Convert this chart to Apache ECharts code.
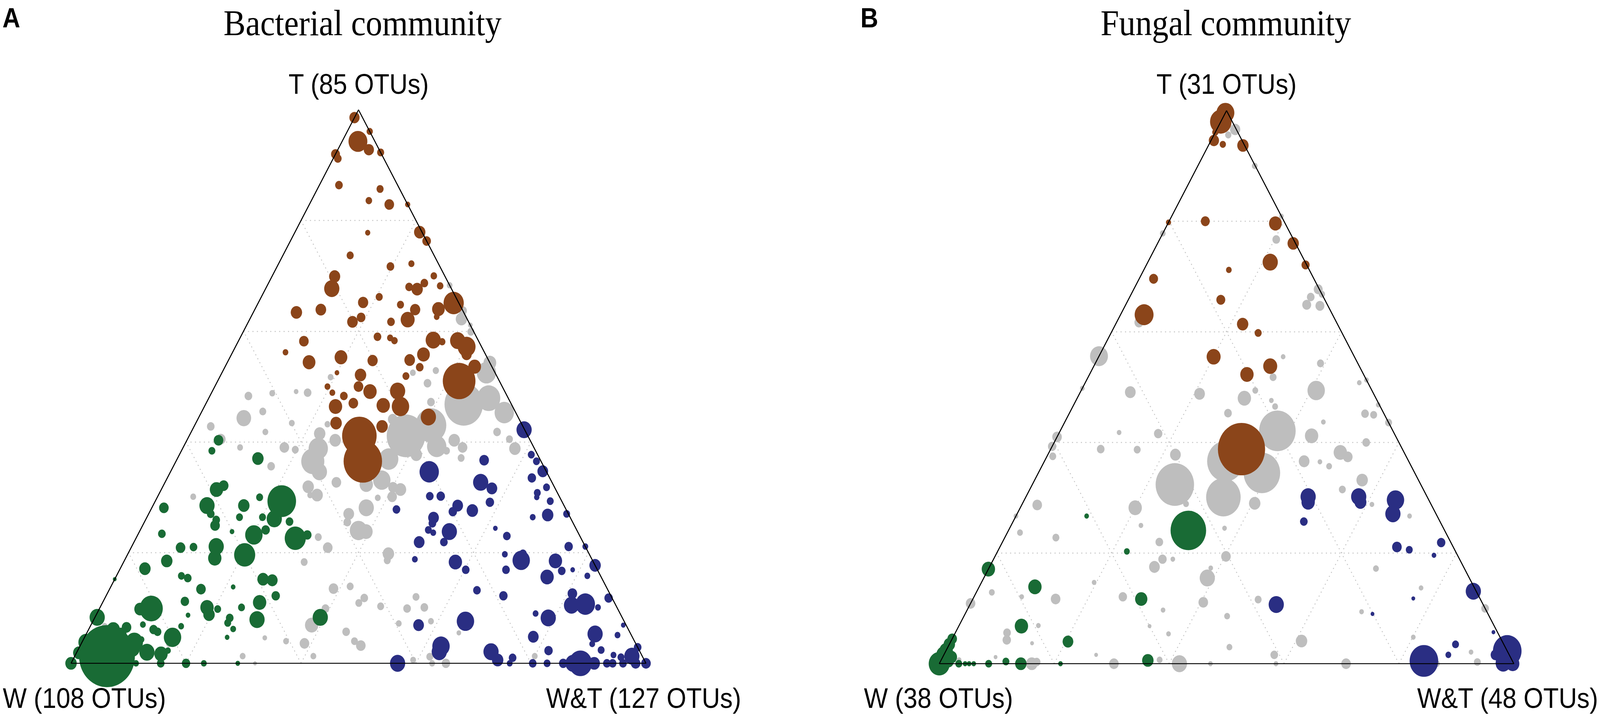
<!DOCTYPE html>
<html><head><meta charset="utf-8">
<script src="https://cdn.jsdelivr.net/npm/echarts@6/dist/echarts.min.js"></script>
<style>html,body{margin:0;padding:0;background:#fff;overflow:hidden}#c{width:100vw;height:100vh}</style>
</head><body><div id="c"></div>
<script>
// rows: [W %, T %, W&T %, relative abundance]
const brownA = [
[1.4,98.6,0,5.9],[0,96.1,3.9,2.2],[2.95,94.3,2.75,20],[1.8,92.8,5.4,5.9],[0,92.3,7.7,2.8],[8.0,92.0,0,4.5],
[8.0,91.2,0.8,3.3],[10.2,86.4,3.4,3.3],[3.4,85.7,10.9,2.8],[6.4,83.6,10.0,2.4],[3.2,82.9,13.9,5.2],[0,82.9,17.1,1.5],
[9.5,77.8,12.7,1.5],[0.4,77.9,21.7,7.3],[0,76.3,23.7,4.2],[14.6,73.7,11.7,2.8],[8.6,71.7,19.7,3.3],[4.7,72.2,23.1,2.1],
[19.2,69.9,10.9,7],[20.8,67.7,11.5,13],[1.9,70.0,28.1,2.4],[4.2,68.7,27.1,3.3],[1.7,68.2,30.1,2.4],[7.2,68.0,24.8,3.3],
[6.0,67.6,26.4,7.3],[13.3,66.2,20.5,2.8],[16.6,65.2,18.2,5.9],[10.3,64.8,24.9,2.8],[0.9,65.1,34.0,23],[29.1,63.4,7.5,7.3],
[24.6,63.9,11.5,6.4],[8.2,63.9,27.9,5.9],[4.1,64.0,31.9,9],[5.1,62.6,32.3,1.8],[20.2,61.7,18.1,6.4],[18.3,62.5,19.2,4.2],
[10.4,62.1,27.5,11],[13.5,61.7,24.8,3.3],[30.4,58.2,11.4,5.2],[17.2,59.0,23.8,3.3],[15.1,58.8,26.1,2.1],[14.6,58.3,27.1,2.4],
[7.8,58.4,33.8,13],[6.4,58.1,35.5,2.4],[3.6,58.3,38.1,13],[2.6,57.2,40.2,18],[3.3,55.8,40.9,5.9],[34.6,56.2,9.2,1.8],
[25.4,55.3,19.3,9.1],[10.8,55.8,33.4,9.1],[31.4,54.4,14.2,9.1],[20.2,54.7,25.1,5.9],[13.7,54.8,31.5,6.4],[12.6,53.5,33.9,3.3],
[3.0,53.6,43.4,9.1],
[7.0,51.0,42.0,60],[18.6,49.2,32.2,13],[19.5,46.4,34.1,17],[23.45,49.1,27.45,10],[22.4,46.6,31.0,10],[25,50,25,5.2],
[23.6,52.1,24.3,7.4],[30.8,46.4,22.8,10],[27.4,47.0,25.6,5.2],[28.4,48.3,23.3,3.3],[30.1,48.9,21.0,1.9],[30.4,50.0,19.6,1.9],
[32.2,43.4,24.4,7.4],[24.5,42.8,32.7,7.4],[15.6,44.5,39.9,13],[29.3,41.1,29.6,67],[31.0,36.5,32.5,83],[15.8,51.9,32.3,2.7],
[27.5,52.5,20.0,1.2]
];
const greyA = [
[0,68.3,31.7,1.8],[0,63.7,36.3,3.7],[1.0,62.2,36.8,7.3],[0,61.1,38.9,1.2],[0.5,59.9,39.6,2.8],[0,54.3,45.7,9.1],[10.1,52.9,37.0,2.2],
[8.3,46.8,44.9,83],[3.4,47.9,48.7,30],[2.0,45.3,52.7,21],[1.5,52.5,46.0,21],[21.2,41.1,37.7,83],[15.9,43.0,41.1,53],
[16.8,39.2,44.0,21],[26.3,36.9,36.8,21],[21.1,37.7,41.2,7.4],[13.2,40.3,46.5,7.4],[12.4,39.0,48.6,5.2],[15.5,38.4,46.1,2.7],
[13.6,37.1,49.3,2.7],[3.4,38.8,57.8,7.4],[3.5,40.5,56.0,2.7],[5.0,41.8,53.2,3.3],[12.7,50.6,36.7,3.3],[14.3,52.5,33.2,1.9],
[13.8,47.2,39.0,3.3],[22.0,44.1,33.9,5.2],[33.8,43.2,23.0,1.9],[36.0,41.5,22.5,7.4],[37.6,38.8,23.6,21],[39.7,36.5,23.8,30],
[39.5,34.6,25.9,13],[33.9,40.3,25.8,7.4],[37.5,32.7,29.8,5.2],[42.8,31.9,25.3,7.4],[42.0,30.4,27.6,7.4],[43.2,30.4,26.4,1.9],
[32.5,32.3,35.2,10],[29.4,33.1,37.5,17],[28.1,31.8,40.1,5.2],[27.0,31.4,41.6,7.4],[29.1,30.1,40.8,5.2],[31.7,29.9,38.4,1.9],
[34.6,28.1,37.3,13],[38.2,27.0,34.8,6.5],[39.2,25.5,35.3,3.3],[38.0,24.0,38.0,17],[36.8,23.8,39.4,10],[44.9,20.9,34.2,5.2],
[45.6,22.8,31.6,2.7],[34.9,19.8,45.3,7.4],[35.7,18.6,45.7,2.7],[50.3,18.3,31.4,2.7],[43.4,39.0,17.6,5.2],[41.7,38.6,19.7,2.7],
[47.4,35.6,17.0,3.3],[47.8,44.3,7.9,12],[45.0,48.3,6.7,3.3],[40.6,48.8,10.6,1.9],[34.4,48.9,16.7,3.3],[36.3,49.1,14.6,1.2],
[43.9,45.5,10.6,2.7],[45.3,41.8,12.9,1.9],[51.1,39.0,9.9,1.9],[53.7,40.5,5.8,5.2],[54.3,42.8,2.9,3.3],[63.7,30.1,6.2,1.9],
[39.9,43.4,16.7,1.9],[29.0,51.7,19.3,1.9],[44.5,13.9,41.6,2.7],[47.6,13.5,38.9,5.2],[43.1,11.8,45.1,3.3],[44.5,10.9,44.6,2.7],
[41.0,10.3,48.7,2.7],[50.8,9.9,39.3,3.3],[54.7,6.9,38.4,10],[57.6,3.6,38.8,5.2],[49.3,5.7,45.0,3.3],[48.0,3.2,48.8,5.2],
[48.7,4.0,47.3,2.7],[34.0,12.0,54.0,2.7],[36.6,9.9,53.5,3.3],[33.5,10.1,56.4,3.3],[39.4,7.2,53.4,1.9],[33.6,7.6,58.8,1.9],
[29.8,5.5,64.7,1.2],[40.2,0.6,59.2,1.9],[37.2,0,62.8,1.9],[34.8,0,65.2,4],[37.0,1.2,61.8,2.7],[57.2,1.3,41.5,1.9],
[60.6,4.0,35.4,1.9],[64.0,4.6,31.4,1.2],[69.5,1.3,29.2,1.9],[68.0,0,32.0,0.8],[90.8,6.7,2.5,1.9],[81.2,3.5,15.3,1.9],
[18.7,1.3,80.0,1.9]
];
const greenA = [
[48.7,29.3,22.0,46],[51.6,26.1,22.3,13],[53.5,26.4,20.1,2.7],[52.2,30.0,17.8,2.7],[49.2,25.6,25.2,3.3],[54.2,40.3,5.5,5.2],
[56.3,38.4,5.3,2.7],[49.0,37.0,14.0,7.4],[59.0,31.4,9.6,10],[57.4,32.1,10.5,5.2],[62.1,28.5,9.4,13],[55.7,28.5,15.8,7.4],
[62.2,27.0,10.8,3.3],[57.5,26.4,16.1,2.7],[61.8,25.9,12.3,3.3],[62.5,24.9,12.6,5.2],[69.8,28.1,2.1,5.2],[72.5,23.4,4.1,3.3],
[56.6,23.2,20.2,17],[54.1,24.1,21.8,4],[60.1,23.8,16.1,1.2],[49.7,22.6,27.7,25],[47.3,23.2,29.5,4],[70.5,20.9,8.6,5.2],
[68.2,21.0,10.8,3.3],[64.2,21.1,14.7,13],[65.5,19.0,15.5,10],[60.0,19.6,20.4,25],[74.1,18.5,7.4,7.4],[78.6,17.1,4.3,7.4],
[72.9,15.8,11.3,2.7],[72.0,15.4,12.6,3.3],[64.9,13.8,21.3,1.2],[70.7,13.4,15.9,5.2],[59.0,15.2,25.8,7.4],[57.5,15.0,27.5,6.5],
[74.6,11.2,14.2,4],[71.3,10.1,18.6,10],[69.6,9.8,20.6,2.7],[71.6,8.8,19.6,7.4],[65.3,10.1,24.6,2.7],[61.7,11.0,27.3,10],
[58.3,12.2,29.5,4],[75.3,8.7,16.0,1.2],[81.1,9.9,9.0,30],[83.1,9.8,7.1,7.4],[91.3,8.3,0.4,13],[84.0,7.0,9.0,1.9],
[82.6,6.1,11.3,4],[82.1,5.7,12.2,3.3],[77.5,6.7,15.8,1.9],[68.3,8.2,23.5,3.3],[69.1,7.3,23.6,2.7],[68.7,6.2,25.1,1.9],
[63.7,7.9,28.4,13],[80.0,4.7,15.3,17],[85.6,4.3,10.1,1.9],[70.5,4.7,24.8,1.2],[52.5,8.3,39.2,13],[84.8,15.2,0,0.8],
[85.8,2.0,12.2,13],[83.5,1.7,14.8,10],[82.0,2.3,15.7,1.9],[84.4,0,15.6,3.3],[88.7,0,11.3,1.9],[80.0,0,20.0,4],
[76.9,0,23.1,1.9],[71.0,0,29.0,1.2],[88.7,5.3,6.0,7.4],[88.0,2.7,9.3,13],[97.7,1.9,0.4,7.4],[100,0,0,7.4],
[95.5,3.8,0.7,13],[87.1,6.5,6.4,5.2],[87.1,3.8,9.1,17],[89.6,6.1,4.3,10],[93.1,1.3,5.6,175]
];
const blueA = [
[0.1,42.2,57.7,13],[20.4,34.6,45.0,21],[9.8,36.7,53.5,5.2],[1.1,37.7,61.2,2.7],[0.8,36.5,62.7,2.7],[0.6,34.7,64.7,6.5],
[3.1,33.5,63.4,4],[12.4,32.7,54.9,13],[11.0,31.6,57.4,6.5],[1.4,31.8,66.8,2.7],[3.5,30.8,65.7,2.7],[4.0,30.0,66.0,1.6],
[2.0,29.3,68.7,2.7],[22.5,30.2,47.3,3.3],[20.6,30.2,49.2,4],[18.5,28.5,53.0,6.5],[19.9,27.4,52.7,4],[16.4,27.6,56.0,7.4],
[12.6,29.1,58.3,4],[29.5,27.8,42.7,3.3],[23.8,26.3,49.9,6.5],[24.5,25.3,50.2,3.3],[25.8,24.1,50.1,2.7],[25.2,23.6,51.2,1.9],
[22.3,23.8,53.9,13],[24.2,21.9,53.9,3.3],[28.5,21.9,49.6,6.5],[14.0,24.4,61.6,1.2],[12.7,23.0,64.3,3.3],[6.5,26.4,67.1,1.9],
[3.7,26.8,69.5,7.4],[0.3,27.0,72.7,2.7],[30.8,18.8,50.4,1.9],[24.0,18.3,57.7,10],[22.9,16.9,60.2,3.3],[14.7,19.7,65.6,1.9],
[12.4,18.6,69.0,17],[11.5,19.8,68.7,3.3],[15.9,16.9,67.2,3.3],[6.5,18.5,75.0,10],[6.3,16.7,77.0,3.3],[4.3,16.9,78.8,1.2],
[2.9,21.1,76.0,4],[0,21.1,78.9,1.9],[0,17.7,82.3,7.4],[2.3,15.8,81.9,1.9],[9.4,15.6,75.0,10],[22.8,13.2,64.0,3.3],
[18.7,12.2,69.1,4],[6.5,12.6,80.9,5.2],[0.6,11.8,87.6,4],[7.7,10.5,81.8,13],[5.2,10.7,84.1,21],[3.3,10.1,86.6,1.9],
[14.7,9.0,76.3,1.9],[12.9,8.2,78.9,13],[27.6,7.6,64.8,17],[36.1,6.9,57.0,6.5],[17.2,4.8,78.0,6.5],[6.2,5.3,88.5,13],
[2.4,5.1,92.5,1.9],[0.5,6.9,92.6,1.2],[7.6,3.5,88.9,1.9],[6.6,2.4,91.0,2.7],[0,2.9,97.1,3.3],[34.1,3.1,62.8,17],
[34.9,2.1,63.0,13],[25.9,2.1,72.0,13],[25.5,0.6,73.9,7.4],[22.7,1.0,76.3,3.3],[15.8,2.3,81.9,4],[4.9,1.5,93.6,1.9],
[1.8,1.3,96.9,13],[3.8,1.1,95.1,2.7],[43.2,0,56.8,13],[23.7,0,76.3,1.9],[19.7,0,80.3,3.3],[17.2,0,82.8,2.7],
[14.4,0,85.6,4],[11.4,0,88.6,30],[12.7,0,87.3,13],[9.0,0,91.0,7.4],[6.8,0,93.2,3.3],[5.8,0,94.2,3.3],
[4.0,0,96.0,3.3],[1.8,0,98.2,5.2],[0,0,100,5.2]
];
const brownB = [
[2.0,98.0,0,26],[0.4,99.6,0,18],[3.9,96.1,0,2.2],[4.9,94.6,0.5,5.9],[3.7,93.9,2.4,2.2],[0.3,93.7,6.0,7.3],
[20.2,79.8,0,1.5],[13.7,80.0,6.3,4.5],[1.7,79.6,18.7,9.1],[0.4,76.0,23.6,7.3],[6.1,72.6,21.3,13],[0.2,72.1,27.7,3.7],
[14.0,71.2,14.8,1.8],[27.9,69.6,2.5,4.5],[18.1,65.8,16.1,4.5],[32.8,63.1,4.1,20],[16.5,61.4,22.1,7.3],[14.6,59.8,25.6,2.8],
[24.5,55.5,20.0,11],[15.5,53.8,30.7,11],[20.3,52.3,27.4,10],[28.0,38.8,33.2,125]
];
const greyB = [
[0.2,96.6,3.2,5.9],[1.9,95.6,2.5,2.2],[0.1,90.0,9.9,1.8],[0,80.9,19.1,1.2],[22.2,77.8,0,1.8],[3.0,76.7,20.3,3.3],
[34.4,61.7,3.9,4.5],[0.2,67.7,32.1,4.5],[2.2,66.3,31.5,3.3],[0,66.8,33.2,2.2],[3.6,64.9,31.5,4.5],[1.4,64.7,33.9,4.5],
[44.4,55.6,0,18],[12.4,55.5,32.1,1.2],[6.5,54.3,39.2,2.8],
[42.2,49.1,8.7,6.5],[30.3,48.8,20.9,6.5],[22.9,48.0,29.1,10],[20.3,49.4,30.3,1.9],[16.0,51.8,32.2,2.7],[9.7,49.4,40.9,17],
[18.4,47.6,34.0,1.2],[18.3,46.5,35.2,1.9],[27.1,45.3,27.6,3.3],[20.1,42.1,37.8,75],[31.9,36.6,31.5,75],[26.6,34.5,38.9,75],
[42.8,32.4,24.8,83],[35.5,30.1,34.4,67],[40.0,37.8,22.2,6.5],[41.1,41.6,17.3,4],[47.8,41.8,10.4,1.2],[59.0,41.0,0,5.2],
[60.7,39.3,0,4],[61.5,37.5,1.0,2.7],[52.5,38.8,8.7,3.3],[46.2,38.7,15.1,2.7],[50.2,49.8,0,1.2],[14.6,41.2,44.2,10],
[11.3,43.7,45.0,1.2],[11.1,38.2,50.7,10],[10.2,37.4,52.4,5.2],[18.2,36.6,45.2,6.5],[15.5,36.5,48.0,1.2],[14.3,35.7,50.0,1.9],
[5.7,40.0,54.3,3.3],[3.3,45.2,51.5,3.3],[1.9,45.0,53.1,2.7],[0.2,46.8,53.0,1.2],[0,43.6,56.4,2.7],[1.5,50.8,47.7,1.2],
[0,51.3,48.7,1.2],[9.8,33.2,57.0,7.4],[14.1,31.5,54.4,2.7],[10.3,28.8,60.9,1.2],[4.8,26.7,68.5,1.2],[30.6,29.0,40.4,7.4],
[51.8,28.2,20.0,10],[42.6,28.9,28.5,1.9],[52.4,25.0,22.6,1.2],[38.1,24.5,37.4,1.2],[68.6,28.7,2.7,5.2],[73.3,26.7,0,1.2],
[74.1,23.7,2.2,1.9],[68.3,22.8,8.9,2.7],[50.7,22.0,27.3,3.3],[51.7,18.9,29.4,4],[49.9,18.9,31.2,1.2],[53.8,17.5,28.7,6.5],
[40.4,19.4,40.2,5.2],[44.1,17.3,38.6,1.2],[45.6,15.5,38.9,13],[48.5,11.1,40.4,5.2],[56.2,9.7,34.1,1.2],[62.0,12.1,25.9,4],
[65.7,14.7,19.6,1.2],[73.9,11.7,14.4,5.2],[79.6,12.1,8.3,1.2],[84.4,12.9,2.7,1.9],[89.1,10.9,0,5.2],[38.7,11.6,49.7,2.7],
[45.6,8.6,45.8,1.9],[57.4,5.4,37.2,1.2],[60.0,6.8,33.2,0.8],[85.4,5.6,9.0,3.3],[86.1,4.3,9.6,4],[79.3,6.9,13.8,1.2],
[82.0,3.7,14.3,0.8],[89.6,1.2,9.2,0.8],[96.2,0.7,3.1,1.2],[83.9,0,16.1,7.4],[82.9,0.3,16.8,3.3],[71.9,1.6,26.5,0.8],
[69.6,0,30.4,5.2],[61.3,0.7,38.0,1.9],[58.2,0,41.8,13],[52.8,0,47.2,1.2],[48.0,3.0,49.0,1.9],[40.9,1.6,57.5,3.3],
[41.4,0,58.6,1.2],[34.9,4.1,61.0,7.4],[29.2,0,70.8,5.2],[15.1,4.8,80.1,1.2],[21.8,9.4,68.8,1.2],[15.4,17.2,67.4,1.9],
[9.3,13.7,77.0,1.2],[0,10.0,90.0,3.3],[6.2,0.3,93.5,2.7],[13.4,0,86.6,1.9],[6.4,2.1,91.5,1.2]
];
const greenB = [
[44.6,24.1,31.3,71],[61.0,26.7,12.3,1.2],[57.2,20.3,22.5,1.9],[82.9,17.1,0,10],[76.4,13.9,9.7,10],[59.0,11.7,29.3,8.5],
[82.3,6.8,10.9,10],[75.6,4.0,20.4,6.5],[63.4,0.6,36.0,7.4],[85.8,0,14.2,7.4],[88.2,0.4,11.4,2.7],[91.4,0,8.6,2.7],
[94.0,0,6.0,1.2],[94.8,0,5.2,1.2],[95.5,0,4.5,1.2],[96.6,0,3.4,2.7],[78.9,0,21.1,1.2],[100,0,0,25],
[98.4,1.6,0,13],[96.5,3.5,0,7.4],[97.6,2.4,0,10],[97.3,1.2,1.5,7.4],[99.5,0.5,0,10],[98.2,0.3,1.5,5.2],[95.5,4.5,0,5.2]
];
const blueB = [
[20.7,30.2,49.1,13],[21.2,29.2,49.6,10],[11.9,30.2,57.9,13],[12.1,29.2,58.7,8],[5.8,29.6,64.6,17],[7.5,27.1,65.4,13],
[23.7,25.7,50.6,3.3],[9.8,21.1,69.1,5.2],[7.9,20.6,71.5,2.7],[1.7,21.9,76.4,4],[4.1,19.6,76.3,1.2],[36.0,10.7,53.3,13],
[20.1,9.0,70.9,0.8],[11.6,11.8,76.6,0.8],[0.5,13.1,86.4,13],[0.7,5.7,93.6,0.8],[8.4,3.5,88.1,2.7],[10.6,1.6,87.8,1.9],
[15.4,0.5,84.1,46],[0,2.3,97.7,46],[1.8,0.1,98.1,13],[0.2,0,99.8,10],[0.7,3.7,95.6,2.7],[2.4,1.6,96.0,5.2]
];
const titles = ['Bacterial community', 'Fungal community'];
const panelTags = ['A', 'B'];
const vertexLabelsA = ['T (85 OTUs)', 'W (108 OTUs)', 'W&T (127 OTUs)'];
const vertexLabelsB = ['T (31 OTUs)', 'W (38 OTUs)', 'W&T (48 OTUs)'];
const gridLevels = [20, 40, 60, 80];

const COL = {T: '#8B451A', W: '#196B35', WT: '#2A2E83', NS: '#BEBEBE'};
const H = Math.sqrt(3) / 2;
// layout designed on the 4550 x 1842 reference frame, mapped onto the actual viewport
const SX = window.innerWidth / 4550, SY = window.innerHeight / 1842, SM = Math.sqrt(SX * SY);
const px = v => v * SX, py = v => v * SY;

function tern(W, T, WT) { const s = W + T + WT; return [(WT + T / 2) / s, (T / s) * H]; }
function pts(rows) { return rows.map(r => tern(r[0], r[1], r[2]).concat([r[3]])); }

function gridSegs() {
  const segs = [];
  gridLevels.forEach(k => {
    segs.push({coords: [tern(100 - k, k, 0), tern(0, k, 100 - k)]});
    segs.push({coords: [tern(100 - k, 0, k), tern(0, 100 - k, k)]});
    segs.push({coords: [tern(k, 0, 100 - k), tern(k, 100 - k, 0)]});
  });
  return segs;
}
const outline = [tern(100, 0, 0), tern(0, 0, 100), tern(0, 100, 0), tern(100, 0, 0)];

function panelSeries(i, sets) {
  const s = [];
  s.push({type: 'lines', coordinateSystem: 'cartesian2d', xAxisIndex: i, yAxisIndex: i, silent: true,
    data: gridSegs(), lineStyle: {color: '#c4c4c4', width: 2.5 * SM, type: [3 * SM, 9 * SM], opacity: 1}});
  s.push({type: 'line', xAxisIndex: i, yAxisIndex: i, data: outline, symbol: 'none', silent: true,
    lineStyle: {color: '#000', width: 2.8 * SM}});
  sets.forEach(([rows, color]) => {
    s.push({type: 'scatter', xAxisIndex: i, yAxisIndex: i, clip: false, data: pts(rows),
      symbolSize: v => { const d = 12 * Math.sqrt(v[2]); return [d * SX, d * SY]; },
      itemStyle: {color: color, opacity: 1}});
  });
  return s;
}

const grids = [
  {left: px(202), top: py(281), width: px(1635), height: py(1416)},
  {left: px(2671), top: py(283), width: px(1634), height: py(1415)}
];
const series = panelSeries(0, [[greyA, COL.NS], [brownA, COL.T], [greenA, COL.W], [blueA, COL.WT]])
  .concat(panelSeries(1, [[greyB, COL.NS], [brownB, COL.T], [greenB, COL.W], [blueB, COL.WT]]));

function txt(x, y, s, size, fam, align, weight) {
  return {type: 'text', x: px(x), y: py(y), scaleX: SX, scaleY: SY, silent: true,
    style: {text: s, font: (weight || 'normal') + ' ' + size + 'px ' + fam,
      textAlign: align || 'center', textVerticalAlign: 'middle', fill: '#000'}};
}
const SANS = '"Liberation Sans", Arial, sans-serif';
const SERIF = '"Liberation Serif", "Times New Roman", serif';
const graphic = [
  txt(7, 46, panelTags[0], 70, SANS, 'left', 'bold'), txt(2447, 46, panelTags[1], 70, SANS, 'left', 'bold'),
  txt(1031, 58, titles[0], 94, SERIF), txt(3486, 58, titles[1], 94, SERIF),
  txt(1020, 215, vertexLabelsA[0], 72, SANS), txt(8, 1786, vertexLabelsA[1], 72, SANS, 'left'), txt(1553, 1786, vertexLabelsA[2], 72, SANS, 'left'),
  txt(3488, 215, vertexLabelsB[0], 72, SANS), txt(2457, 1786, vertexLabelsB[1], 72, SANS, 'left'), txt(4030, 1786, vertexLabelsB[2], 72, SANS, 'left')
];

const chart = echarts.init(document.getElementById('c'), null, {renderer: 'svg'});
chart.setOption({
  animation: false,
  backgroundColor: '#fff',
  grid: grids,
  xAxis: grids.map((g, i) => ({type: 'value', gridIndex: i, min: 0, max: 1, show: false})),
  yAxis: grids.map((g, i) => ({type: 'value', gridIndex: i, min: 0, max: H, show: false})),
  series: series,
  graphic: graphic
});
</script></body></html>
